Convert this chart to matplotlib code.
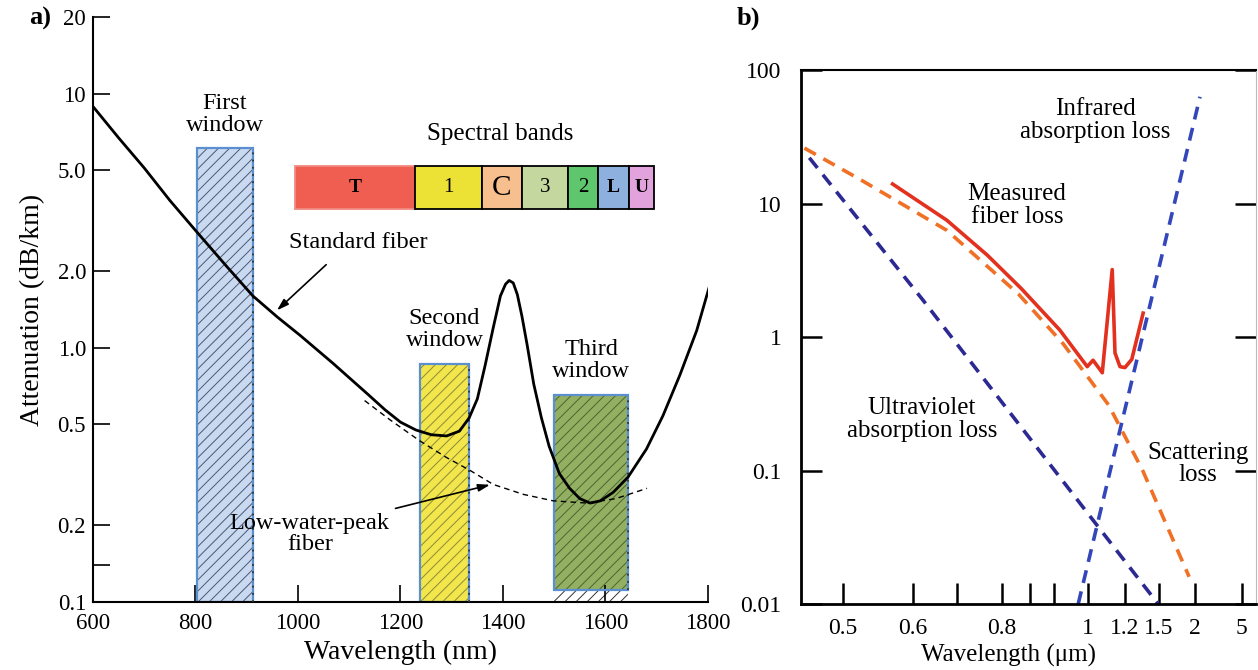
import numpy as np
import matplotlib
matplotlib.use('Agg')
import matplotlib.pyplot as plt

plt.rcParams['font.family'] = ['Liberation Serif', 'DejaVu Serif']
plt.rcParams['hatch.linewidth'] = 0.7

# ---------------- panel a) data ----------------
std_wl = [600, 650, 700, 750, 803, 860, 912, 960, 1004, 1068, 1135, 1170, 1200, 1230,
          1260, 1290, 1315, 1334, 1350, 1365, 1381, 1395, 1405, 1412, 1420, 1428,
          1437, 1447, 1460, 1475, 1490, 1510, 1530, 1550, 1570, 1590, 1615, 1644,
          1680, 1712, 1745, 1778, 1804]
std_att = [8.9, 6.7, 5.1, 3.8, 2.85, 2.1, 1.6, 1.32, 1.12, 0.87, 0.66, 0.57, 0.51, 0.475,
           0.455, 0.45, 0.47, 0.53, 0.63, 0.85, 1.2, 1.6, 1.78, 1.84, 1.8, 1.62,
           1.33, 1.03, 0.72, 0.53, 0.41, 0.32, 0.28, 0.255, 0.245, 0.25, 0.27, 0.31,
           0.40, 0.54, 0.78, 1.17, 1.78]

lwp_wl = [1130, 1180, 1238, 1290, 1335, 1381, 1440, 1498, 1564, 1620, 1681]
lwp_att = [0.62, 0.52, 0.43, 0.37, 0.33, 0.29, 0.265, 0.25, 0.245, 0.255, 0.28]

win_names = ['First\nwindow', 'Second\nwindow', 'Third\nwindow']
win_lo = [803, 1238, 1500]
win_hi = [912, 1334, 1644]
win_top = [6.1, 0.86, 0.65]
win_bottom = [0.1, 0.1, 0.111]
win_fill = ['#c9daf0', '#f2e64c', '#93b062']
win_hatch = ['#4a5874', '#8c8a35', '#4a6530']
win_label_y = [8.3, 1.18, 0.89]

band_labels = ['T', '1', 'C', '3', '2', 'L', 'U']
band_edges = [994, 1228, 1359, 1437, 1527, 1585, 1646, 1695]
band_colors = ['#f05e52', '#ece235', '#f8bf8e', '#c4d79e', '#5ec66c', '#8eb0de', '#e2a2dc']
band_bold = [True, False, False, False, False, True, True]
band_size = [14, 15, 21, 15, 15, 14, 14]
band_lo, band_hi = 3.51, 5.17

a_yticks = [0.1, 0.2, 0.5, 1.0, 2.0, 5.0, 10, 20]
a_ylabels = ['0.1', '0.2', '0.5', '1.0', '2.0', '5.0', '10', '20']
a_xticks = [600, 800, 1000, 1200, 1400, 1600, 1800]

# ---------------- panel b) data ----------------
meas_wl = [0.571, 0.676, 0.767, 0.845, 0.934, 0.998, 1.027, 1.077, 1.131, 1.146,
           1.173, 1.2, 1.26, 1.36]
meas_loss = [14, 7.5, 4.1, 2.3, 1.13, 0.60, 0.67, 0.54, 3.2, 0.76, 0.60, 0.59, 0.68, 1.51]

scat_wl = [0.445, 0.526, 0.676, 0.838, 0.942, 1.111, 1.356, 1.918]
scat_loss = [26, 15, 6.3, 2.1, 0.89, 0.31, 0.1, 0.016]

uv_wl = [0.452, 0.622, 1.054, 1.492]
uv_loss = [22, 1.9, 0.038, 0.01]

ir_wl = [0.977, 2.32]
ir_loss = [0.01, 63]

b_xticks = [0.5, 0.6, 0.8, 1, 1.2, 1.5, 2, 5]
b_xlabels = ['0.5', '0.6', '0.8', '1', '1.2', '1.5', '2', '5']
b_xminor = [0.7, 0.865, 0.92]
b_yticks = [0.01, 0.1, 1, 10, 100]
b_ylabels = ['0.01', '0.1', '1', '10', '100']

# the wavelength axis of panel b is not uniform; map it piecewise
lam_nodes = [0.44, 0.5, 0.6, 0.8, 1.0, 1.2, 1.5, 2.0, 5.0, 6.0]
pos_nodes = [0.0, 0.092, 0.246, 0.442, 0.631, 0.712, 0.787, 0.866, 0.969, 1.0]


def fwd(x):
    return np.interp(x, lam_nodes, pos_nodes)


def inv(p):
    return np.interp(p, pos_nodes, lam_nodes)


fig = plt.figure(figsize=(12.58, 6.70), dpi=100)

# ================= panel a =================
ax1 = fig.add_axes([0.0739, 0.1015, 0.4889, 0.873])
ax1.set_yscale('log')
ax1.set_xlim(600, 1800)
ax1.set_ylim(0.1, 20)

for i in range(3):
    w = win_hi[i] - win_lo[i]
    h = win_top[i] - win_bottom[i]
    ax1.bar(win_lo[i], h, width=w, bottom=win_bottom[i], align='edge',
            facecolor=win_fill[i], edgecolor=win_hatch[i], hatch='///', linewidth=0, zorder=1)
    ax1.bar(win_lo[i], h, width=w, bottom=win_bottom[i], align='edge',
            fill=False, edgecolor='#5b8fd0', linewidth=1.6, zorder=2)
    ax1.plot([win_hi[i], win_hi[i]], [win_bottom[i], win_top[i]], color='#333333',
             ls=(0, (1, 3)), lw=1.3, zorder=3)
    ax1.text((win_lo[i] + win_hi[i]) / 2, win_label_y[i], win_names[i],
             ha='center', va='center', fontsize=17.5, linespacing=1.05)
# small hatched strip below the third window
ax1.bar(win_lo[2], win_bottom[2] - 0.1, width=win_hi[2] - win_lo[2], bottom=0.1, align='edge',
        facecolor='white', edgecolor='#333333', hatch='///', linewidth=0, zorder=1)

# spectral bands
for i, lab in enumerate(band_labels):
    ec = '#f08a80' if i == 0 else 'black'
    ax1.bar(band_edges[i], band_hi - band_lo, width=band_edges[i + 1] - band_edges[i],
            bottom=band_lo, align='edge', facecolor=band_colors[i], edgecolor=ec,
            linewidth=1.3, zorder=2)
    ax1.text((band_edges[i] + band_edges[i + 1]) / 2, np.sqrt(band_lo * band_hi), lab,
             ha='center', va='center', fontsize=band_size[i],
             fontweight='bold' if band_bold[i] else 'normal', zorder=3)
ax1.text(1394, 6.96, 'Spectral bands', ha='center', va='center', fontsize=18)

ax1.plot(std_wl, std_att, color='black', lw=2, zorder=4)
ax1.plot(lwp_wl, lwp_att, color='black', lw=1, ls=(0, (4, 3)), zorder=4)

ax1.text(1117, 2.59, 'Standard fiber', ha='center', va='center', fontsize=17.5)
ax1.annotate('', xy=(955, 1.38), xytext=(1059, 2.16),
             arrowprops=dict(arrowstyle='-|>,head_length=0.7,head_width=0.22',
                             color='black', lw=1.2), zorder=5)
ax1.text(1023, 0.185, 'Low-water-peak\nfiber', ha='center', va='center', fontsize=17.5,
         linespacing=1.05)
ax1.annotate('', xy=(1380, 0.291), xytext=(1185, 0.232),
             arrowprops=dict(arrowstyle='-|>,head_length=0.7,head_width=0.22',
                             color='black', lw=1.2), zorder=5)

ax1.set_yticks(a_yticks)
ax1.set_yticklabels(a_ylabels)
ax1.set_yticks([0.14], minor=True)
ax1.yaxis.set_minor_formatter(plt.NullFormatter())
ax1.set_xticks(a_xticks)
ax1.tick_params(axis='both', which='both', direction='in', length=12, width=1.2,
                labelsize=16.5)
ax1.tick_params(axis='y', pad=5)
ax1.tick_params(axis='x', pad=8)
for s in ['top', 'right']:
    ax1.spines[s].set_visible(False)
for s in ['left', 'bottom']:
    ax1.spines[s].set_linewidth(1.5)
ax1.set_xlabel('Wavelength (nm)', fontsize=20)
ax1.set_ylabel('Attenuation (dB/km)', fontsize=20)
ax1.xaxis.set_label_coords(0.5, -0.065)
ax1.yaxis.set_label_coords(-0.078, 0.5)

# ================= panel b =================
ax2 = fig.add_axes([0.6367, 0.0985, 0.3617, 0.797])
ax2.set_xscale('function', functions=(fwd, inv))
ax2.set_yscale('log')
ax2.set_xlim(0.44, 6)
ax2.set_ylim(0.01, 100)

ax2.plot(uv_wl, uv_loss, color='#2c2a92', lw=2.6, ls=(0, (3.6, 2.4)))
ax2.plot(ir_wl, ir_loss, color='#3347ba', lw=2.6, ls=(0, (3.6, 2.4)))
ax2.plot(scat_wl, scat_loss, color='#f07026', lw=2.6, ls=(0, (3.6, 2.4)))
ax2.plot(meas_wl, meas_loss, color='#e2321f', lw=2.6)

ax2.text(1.04, 42, 'Infrared\nabsorption loss', ha='center', va='center', fontsize=18,
         linespacing=1.05)
ax2.text(0.835, 9.6, 'Measured\nfiber loss', ha='center', va='center', fontsize=18,
         linespacing=1.05)
ax2.text(0.62, 0.24, 'Ultraviolet\nabsorption loss', ha='center', va='center', fontsize=18,
         linespacing=1.05)
ax2.text(2.2, 0.112, 'Scattering\nloss', ha='center', va='center', fontsize=18,
         linespacing=1.05)

ax2.set_xticks(b_xticks)
ax2.set_xticklabels(b_xlabels)
ax2.set_xticks(b_xminor, minor=True)
ax2.xaxis.set_minor_formatter(plt.NullFormatter())
ax2.set_yticks(b_yticks)
ax2.set_yticklabels(b_ylabels)
ax2.yaxis.set_minor_locator(plt.NullLocator())
ax2.tick_params(axis='both', which='both', direction='in', length=15, width=1.8,
                labelsize=17)
ax2.tick_params(axis='y', right=True, pad=14)
ax2.tick_params(axis='x', pad=10)
ax2.spines['right'].set_color('#bbbbbb')
ax2.spines['right'].set_linewidth(0.8)
ax2.spines['left'].set_linewidth(2)
ax2.spines['bottom'].set_linewidth(2)
ax2.spines['top'].set_linewidth(1.5)
ax2.set_xlabel('Wavelength (\u03bcm)', fontsize=18)
ax2.xaxis.set_label_coords(0.455, -0.075)

fig.text(0.032, 0.973, 'a)', fontsize=19, fontweight='bold', ha='center', va='center')
fig.text(0.595, 0.973, 'b)', fontsize=19, fontweight='bold', ha='center', va='center')

fig.savefig('out.png', dpi=100)
